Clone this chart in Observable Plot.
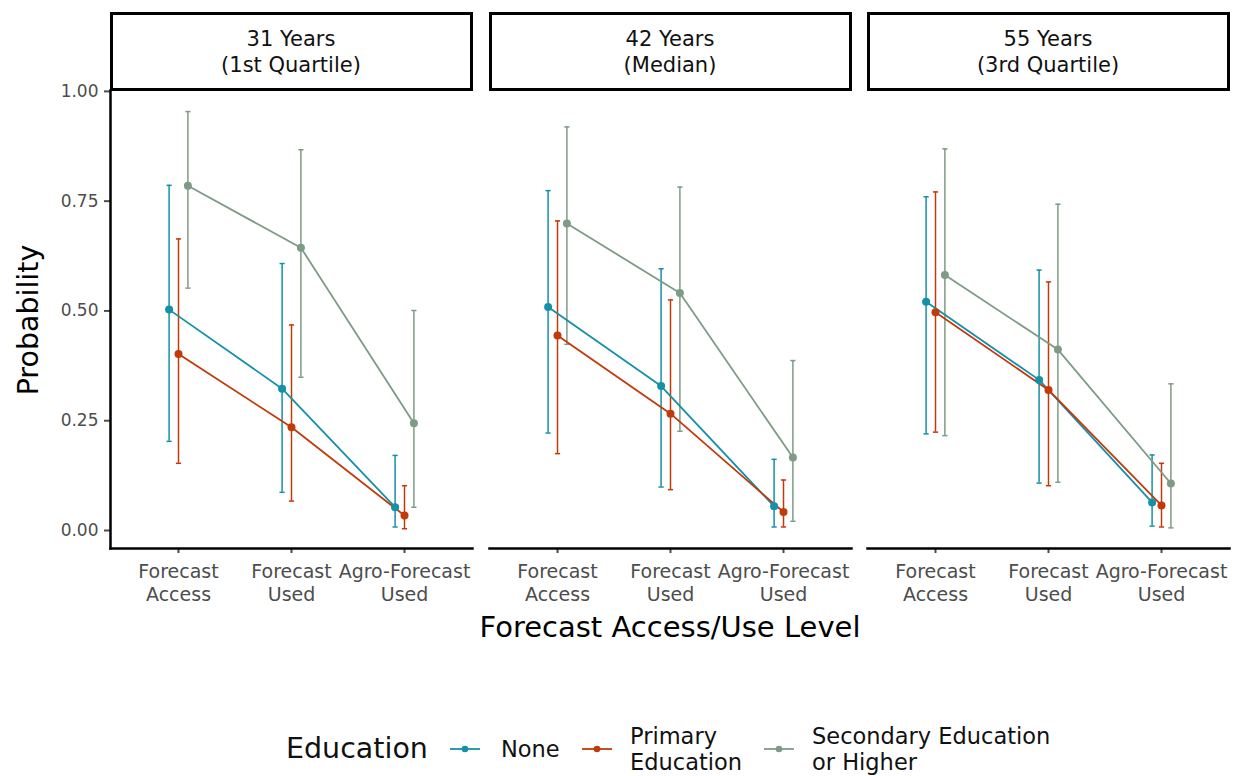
<!DOCTYPE html>
<html>
<head>
<meta charset="utf-8">
<script src="https://cdn.jsdelivr.net/npm/d3@7"></script>
<script src="https://cdn.jsdelivr.net/npm/@observablehq/plot@0.6"></script>
<style>
  html, body { margin: 0; padding: 0; background: #fff; }
  #root { position: relative; width: 1241px; height: 776px; font-family: "DejaVu Sans", sans-serif; overflow: hidden; }
  .strip { position: absolute; top: 12px; height: 79px; width: 363px; box-sizing: border-box; border: 3px solid #000;
           display: flex; align-items: center; justify-content: center; text-align: center; font-size: 21px; line-height: 26px; color: #111; white-space: pre; }
  .panel { position: absolute; top: 80px; }
  .title { position: absolute; color: #000; white-space: nowrap; }
  #legend { position: absolute; left: 0; top: 720px; width: 1241px; height: 56px; }
  .lg { position: absolute; white-space: pre; color: #111; }
</style>
</head>
<body>
<div id="root"></div>
<script>
// ---------------- data ----------------
const ageGroups = ["31 Years\n(1st Quartile)", "42 Years\n(Median)", "55 Years\n(3rd Quartile)"];
const levels = ["Forecast Access", "Forecast Used", "Agro-Forecast Used"];
const levelTickLabels = ["Forecast\nAccess", "Forecast\nUsed", "Agro-Forecast\nUsed"];
const educations = ["None", "Primary Education", "Secondary Education or Higher"];
const legendLabels = ["None", "Primary\nEducation", "Secondary Education\nor Higher"];
const colors = ["#1590a8", "#c03a0a", "#7e9b86"];
const yTicks = [0, 0.25, 0.5, 0.75, 1];

// values in order: (age 31: FA, FU, AFU), (age 42: ...), (age 55: ...)
const estNone      = [0.503, 0.323, 0.053,  0.509, 0.329, 0.055,  0.521, 0.343, 0.064];
const lowNone      = [0.203, 0.087, 0.008,  0.222, 0.099, 0.008,  0.220, 0.108, 0.010];
const highNone     = [0.786, 0.608, 0.171,  0.774, 0.596, 0.162,  0.760, 0.593, 0.172];
const estPrimary   = [0.402, 0.235, 0.034,  0.444, 0.266, 0.042,  0.497, 0.320, 0.057];
const lowPrimary   = [0.153, 0.067, 0.004,  0.175, 0.093, 0.008,  0.224, 0.102, 0.008];
const highPrimary  = [0.664, 0.468, 0.102,  0.705, 0.525, 0.115,  0.771, 0.566, 0.153];
const estSecondary = [0.785, 0.644, 0.244,  0.699, 0.541, 0.166,  0.582, 0.412, 0.107];
const lowSecondary = [0.552, 0.349, 0.053,  0.424, 0.226, 0.021,  0.216, 0.110, 0.006];
const highSecondary= [0.954, 0.867, 0.501,  0.919, 0.782, 0.387,  0.869, 0.743, 0.334];

const seriesEst  = [estNone, estPrimary, estSecondary];
const seriesLow  = [lowNone, lowPrimary, lowSecondary];
const seriesHigh = [highNone, highPrimary, highSecondary];

const table = [];
educations.forEach((edu, e) => {
  ageGroups.forEach((age, a) => {
    levels.forEach((level, l) => {
      const k = a * 3 + l;
      table.push({edu, age, level, est: seriesEst[e][k], lo: seriesLow[e][k], hi: seriesHigh[e][k]});
    });
  });
});

// ---------------- layout ----------------
const root = document.getElementById("root");
const panelLefts = [110, 489, 867];
const panelW = 362;
const dodge = [-9.4, 0, 9.4];
const capSymbol = { draw(ctx) { ctx.moveTo(-2.6, 0); ctx.lineTo(2.6, 0); } };

function makePanel(ai) {
  const first = ai === 0;
  const rows = table.filter(d => d.age === ageGroups[ai]);
  const marks = [];
  if (first) {
    marks.push(Plot.axisY({ticks: yTicks, tickFormat: d3.format(".2f"), tickSize: 6, tickPadding: 6,
      fontSize: 17, color: "#4d4d4d", strokeWidth: 2, label: null}));
    marks.push(Plot.frame({anchor: "left", stroke: "#000", strokeWidth: 2.5}));
  }
  marks.push(Plot.axisX({tickFormat: d => levelTickLabels[levels.indexOf(d)], tickSize: 5, tickPadding: 8,
    fontSize: 19, color: "#4d4d4d", strokeWidth: 2, lineHeight: 1.21, label: null}));
  marks.push(Plot.frame({anchor: "bottom", stroke: "#000", strokeWidth: 2.5}));
  educations.forEach((edu, e) => {
    const sub = rows.filter(d => d.edu === edu);
    const c = colors[e], dx = dodge[e];
    marks.push(Plot.ruleX(sub, {x: "level", y1: "lo", y2: "hi", stroke: c, strokeWidth: 1.5, dx}));
    marks.push(Plot.dot(sub, {x: "level", y: "lo", symbol: capSymbol, stroke: c, fill: "none", strokeWidth: 1.5, dx}));
    marks.push(Plot.dot(sub, {x: "level", y: "hi", symbol: capSymbol, stroke: c, fill: "none", strokeWidth: 1.5, dx}));
  });
  educations.forEach((edu, e) => {
    const sub = rows.filter(d => d.edu === edu);
    marks.push(Plot.line(sub, {x: "level", y: "est", stroke: colors[e], strokeWidth: 1.8, dx: dodge[e]}));
  });
  educations.forEach((edu, e) => {
    const sub = rows.filter(d => d.edu === edu);
    marks.push(Plot.dot(sub, {x: "level", y: "est", r: 4, fill: colors[e], stroke: "none", dx: dodge[e]}));
  });
  const ml = first ? 110 : 0;
  return Plot.plot({
    width: ml + panelW,
    height: 530,
    marginTop: 10,
    marginBottom: 62,
    marginLeft: ml,
    marginRight: 0,
    x: {type: "point", domain: levels, padding: 0.6, axis: null},
    y: {domain: [-0.041, 1.002], axis: null},
    style: {fontFamily: "DejaVu Sans, sans-serif", background: "transparent", overflow: "visible"},
    marks
  });
}

ageGroups.forEach((age, ai) => {
  const strip = document.createElement("div");
  strip.className = "strip";
  strip.style.left = (panelLefts[ai] - 0.5) + "px";
  strip.textContent = age;
  root.appendChild(strip);

  const wrap = document.createElement("div");
  wrap.className = "panel";
  wrap.style.left = (ai === 0 ? 0 : panelLefts[ai]) + "px";
  wrap.appendChild(makePanel(ai));
  root.appendChild(wrap);
});

// axis titles
const yTitle = document.createElement("div");
yTitle.className = "title";
yTitle.textContent = "Probability";
yTitle.style.cssText += "font-size:28.5px; left:28px; top:320px; transform: translate(-50%,-50%) rotate(-90deg);";
root.appendChild(yTitle);

const xTitle = document.createElement("div");
xTitle.className = "title";
xTitle.textContent = "Forecast Access/Use Level";
xTitle.style.cssText += "font-size:29px; left:670px; top:627px; transform: translate(-50%,-50%);";
root.appendChild(xTitle);

// legend
const legend = document.createElement("div");
legend.id = "legend";
root.appendChild(legend);
function addText(txt, x, yc, size, lh) {
  const t = document.createElement("div");
  t.className = "lg";
  t.textContent = txt;
  t.style.cssText += `left:${x}px; top:${yc}px; font-size:${size}px; line-height:${lh}px; transform: translateY(-50%);`;
  legend.appendChild(t);
}
addText("Education", 286, 29, 28.5, 34);
const swatchX = [449, 581, 763];
const textX = [501, 630, 812];
educations.forEach((edu, e) => {
  const svg = d3.create("svg").attr("width", 32).attr("height", 12)
    .style("position", "absolute").style("left", swatchX[e] + "px").style("top", "23px");
  svg.append("line").attr("x1", 1).attr("x2", 31).attr("y1", 6).attr("y2", 6)
    .attr("stroke", colors[e]).attr("stroke-width", 1.8);
  svg.append("circle").attr("cx", 16).attr("cy", 6).attr("r", 3.3).attr("fill", colors[e]);
  legend.appendChild(svg.node());
  addText(legendLabels[e], textX[e], 29, 22.5, 26);
});
</script>
</body>
</html>
